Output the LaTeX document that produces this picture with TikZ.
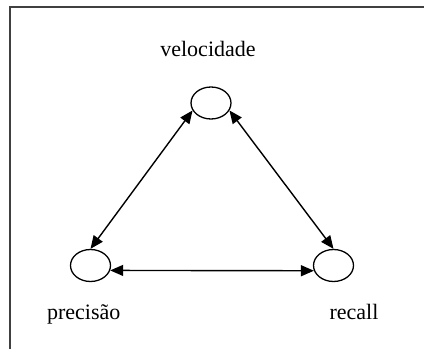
\documentclass[tikz,border=0pt]{standalone}
\usepackage{fontspec}
\setmainfont{Liberation Serif}
\usepackage{tikz}
\usetikzlibrary{positioning,arrows.meta,shapes.geometric}

\begin{document}
\begin{tikzpicture}[x=1pt,y=1pt,>={Triangle[length=13pt,width=11pt]},
  every node/.style={font=\fontsize{22}{26}\selectfont},
  state/.style={draw,ellipse,line width=1.3pt,minimum width=40pt,minimum height=32pt,inner sep=0pt},
  lbl/.style={anchor=base},
  link/.style={<->,line width=1.4pt}]
  \useasboundingbox (0,0) rectangle (424,349);
  \draw[line width=2pt,black!75] (424,342) -- (10,342) -- (10,0);
  % the three nodes
  \node[state] (vel) at (211,246) {};
  \node[state] (pre) at (90.5,83.5) {};
  \node[state] (rec) at (333.5,83.5) {};
  \node[lbl] (tvel) at (208,292.5) {velocidade};
  \node[lbl] (tpre) at (83.7,29.5) {precisão};
  \node[lbl] (trec) at (354,29.7) {recall};
  % connectors
  \draw[link] (vel.202) -- (pre.north);
  \draw[link] (vel.338) -- (rec.north);
  \draw[link] (pre.346) -- (rec.195);
\end{tikzpicture}
\end{document}
